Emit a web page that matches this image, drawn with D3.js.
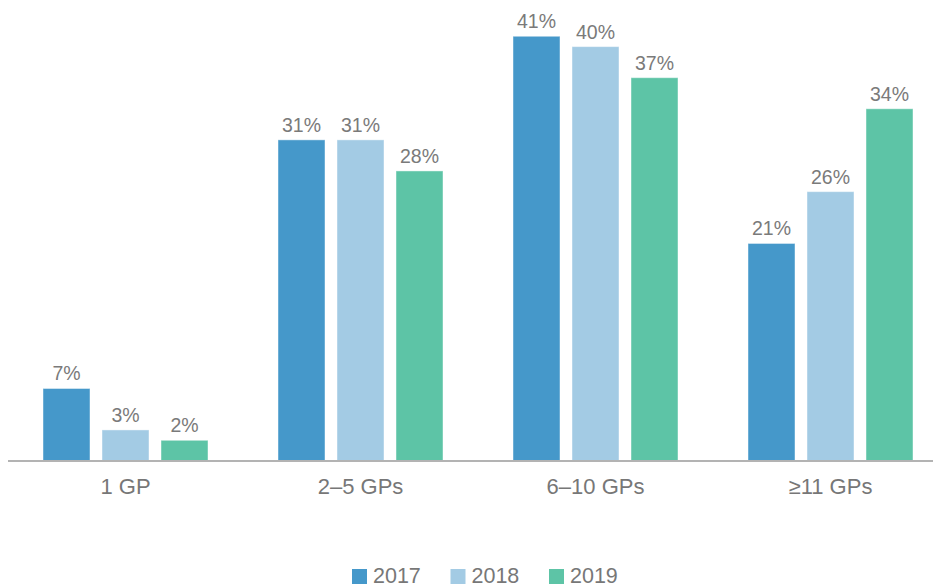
<!DOCTYPE html>
<html>
<head>
<meta charset="utf-8">
<script src="https://cdn.jsdelivr.net/npm/d3@7"></script>
<style>
  html, body { margin: 0; padding: 0; background: #fff; }
  svg { display: block; font-family: "Liberation Sans", Arial, Helvetica, sans-serif; }
</style>
</head>
<body>
<svg id="chart" width="933" height="587"></svg>
<script>
// Practice size groups and share of respondents per survey year
const categories = ["1 GP", "2–5 GPs", "6–10 GPs", "≥11 GPs"];
const years = ["2017", "2018", "2019"];
const values2017 = [7, 31, 41, 21];
const values2018 = [3, 31, 40, 26];
const values2019 = [2, 28, 37, 34];
const colors = ["#4598ca", "#a3cbe4", "#5dc4a6"];

const seriesValues = [values2017, values2018, values2019];
const rows = categories.map((c, i) => ({
  category: c,
  bars: years.map((y, j) => ({ year: y, value: seriesValues[j][i], color: colors[j] }))
}));

const svg = d3.select("#chart");
const baseline = 461;

const x0 = d3.scaleBand()
  .domain(categories)
  .range([8, 948])
  .paddingInner(70 / 235)
  .paddingOuter(35 / 235);

const x1 = d3.scaleBand()
  .domain(years)
  .range([0, x0.bandwidth()])
  .paddingInner(12 / 59)
  .paddingOuter(0);

const y = d3.scaleLinear().domain([0, 44.5]).range([baseline, 0]);

const groups = svg.append("g").selectAll("g")
  .data(rows)
  .join("g")
  .attr("transform", d => `translate(${x0(d.category)},0)`);

groups.selectAll("rect")
  .data(d => d.bars)
  .join("rect")
  .attr("x", d => x1(d.year))
  .attr("y", d => y(d.value))
  .attr("width", x1.bandwidth())
  .attr("height", d => baseline - y(d.value))
  .attr("fill", d => d.color)
  .attr("stroke", "rgba(255,255,255,0.45)")
  .attr("stroke-width", 1);

groups.selectAll("text")
  .data(d => d.bars)
  .join("text")
  .attr("x", d => x1(d.year) + x1.bandwidth() / 2)
  .attr("y", d => y(d.value) - 8)
  .attr("text-anchor", "middle")
  .attr("font-size", 19.5)
  .attr("fill", "#7a7a7a")
  .text(d => d.value + "%");

// Category axis along the baseline
const xAxis = d3.axisBottom(x0).tickSize(0).tickPadding(0);
const axisG = svg.append("g")
  .attr("transform", `translate(0,${baseline})`)
  .call(xAxis);
axisG.select(".domain")
  .attr("d", `M8,0H933`)
  .attr("stroke", "#b3b3b3")
  .attr("stroke-width", 2);
axisG.selectAll(".tick text")
  .attr("y", 33)
  .attr("dy", 0)
  .attr("font-size", 22)
  .attr("font-family", "\"Liberation Sans\", Arial, sans-serif")
  .attr("fill", "#777");

// Legend
const legend = svg.append("g").attr("transform", "translate(352,0)");
const item = legend.selectAll("g")
  .data(years)
  .join("g")
  .attr("transform", (d, i) => `translate(${i * 98.5},0)`);
item.append("rect")
  .attr("x", 0).attr("y", 569)
  .attr("width", 15).attr("height", 15)
  .attr("fill", (d, i) => colors[i]);
item.append("text")
  .attr("x", 21).attr("y", 583)
  .attr("font-size", 21.5)
  .attr("fill", "#777")
  .text(d => d);
</script>
</body>
</html>
